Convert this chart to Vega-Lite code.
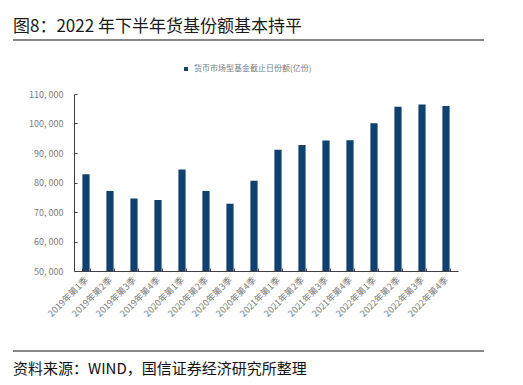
{
  "$schema": "https://vega.github.io/schema/vega-lite/v6.json",
  "width": 384,
  "height": 177,
  "autosize": {"type": "none"},
  "padding": {"left": 74, "top": 94, "right": 65, "bottom": 114},
  "background": "white",
  "config": {
    "view": {"stroke": null},
    "font": "Noto Sans CJK SC"
  },
  "layer": [
    {
      "data": {
        "values": [
          {"quarter": "2019年第1季", "value": 82800, "series": "货币市场型基金截止日份额(亿份)"},
          {"quarter": "2019年第2季", "value": 77100, "series": "货币市场型基金截止日份额(亿份)"},
          {"quarter": "2019年第3季", "value": 74600, "series": "货币市场型基金截止日份额(亿份)"},
          {"quarter": "2019年第4季", "value": 74100, "series": "货币市场型基金截止日份额(亿份)"},
          {"quarter": "2020年第1季", "value": 84400, "series": "货币市场型基金截止日份额(亿份)"},
          {"quarter": "2020年第2季", "value": 77100, "series": "货币市场型基金截止日份额(亿份)"},
          {"quarter": "2020年第3季", "value": 72800, "series": "货币市场型基金截止日份额(亿份)"},
          {"quarter": "2020年第4季", "value": 80600, "series": "货币市场型基金截止日份额(亿份)"},
          {"quarter": "2021年第1季", "value": 91100, "series": "货币市场型基金截止日份额(亿份)"},
          {"quarter": "2021年第2季", "value": 92700, "series": "货币市场型基金截止日份额(亿份)"},
          {"quarter": "2021年第3季", "value": 94200, "series": "货币市场型基金截止日份额(亿份)"},
          {"quarter": "2021年第4季", "value": 94300, "series": "货币市场型基金截止日份额(亿份)"},
          {"quarter": "2022年第1季", "value": 100100, "series": "货币市场型基金截止日份额(亿份)"},
          {"quarter": "2022年第2季", "value": 105700, "series": "货币市场型基金截止日份额(亿份)"},
          {"quarter": "2022年第3季", "value": 106400, "series": "货币市场型基金截止日份额(亿份)"},
          {"quarter": "2022年第4季", "value": 105900, "series": "货币市场型基金截止日份额(亿份)"}
        ]
      },
      "mark": {"type": "bar", "clip": true},
      "encoding": {
        "x": {
          "field": "quarter",
          "type": "nominal",
          "sort": null,
          "scale": {"paddingInner": 0.7, "paddingOuter": 0.35},
          "axis": {
            "title": null,
            "labelAngle": -45,
            "labelAlign": "right",
            "labelBaseline": "middle",
            "labelFontSize": 9,
            "labelColor": "#7a7a7a",
            "labelPadding": 10,
            "tickBand": "extent",
            "tickSize": -3,
            "tickColor": "#404040",
            "domainColor": "#404040",
            "labelFont": "Noto Sans CJK SC"
          }
        },
        "y": {
          "field": "value",
          "type": "quantitative",
          "scale": {"domain": [50000, 110000], "nice": false, "zero": false},
          "axis": {
            "title": null,
            "values": [50000, 60000, 70000, 80000, 90000, 100000, 110000],
            "labelExpr": "replace(format(datum.value, ','), ',', ', ')",
            "labelFontSize": 9,
            "labelColor": "#7a7a7a",
            "labelPadding": 14,
            "tickSize": -3,
            "tickColor": "#404040",
            "domainColor": "#404040",
            "grid": false,
            "labelFont": "Noto Sans CJK SC"
          }
        },
        "color": {
          "field": "series",
          "type": "nominal",
          "scale": {"range": ["#0f426e"]},
          "legend": {
            "title": null,
            "orient": "none",
            "legendX": 108,
            "legendY": -29,
            "symbolType": "square",
            "symbolSize": 16,
            "labelFontSize": 8,
            "labelColor": "#7a7a7a",
            "labelFont": "Noto Sans CJK SC"
          }
        }
      }
    },
    {
      "data": {"values": [{"t": "图8：2022 年下半年货基份额基本持平"}]},
      "mark": {"type": "text", "align": "left", "baseline": "alphabetic", "fontSize": 17, "color": "#1a1a1a", "font": "Noto Sans CJK SC"},
      "encoding": {"text": {"field": "t"}, "x": {"value": -61}, "y": {"value": -62}}
    },
    {
      "data": {"values": [{"t": "资料来源：WIND，国信证券经济研究所整理"}]},
      "mark": {"type": "text", "align": "left", "baseline": "alphabetic", "fontSize": 15, "color": "#111111", "font": "Noto Sans CJK SC"},
      "encoding": {"text": {"field": "t"}, "x": {"value": -61}, "y": {"value": 280}}
    },
    {
      "data": {"values": [{"p": -54}, {"p": 257}]},
      "mark": {"type": "rule", "color": "#111111", "strokeWidth": 1.2},
      "encoding": {"x": {"value": -61}, "x2": {"value": 410}, "y": {"field": "p", "type": "quantitative", "scale": null}}
    }
  ]
}
